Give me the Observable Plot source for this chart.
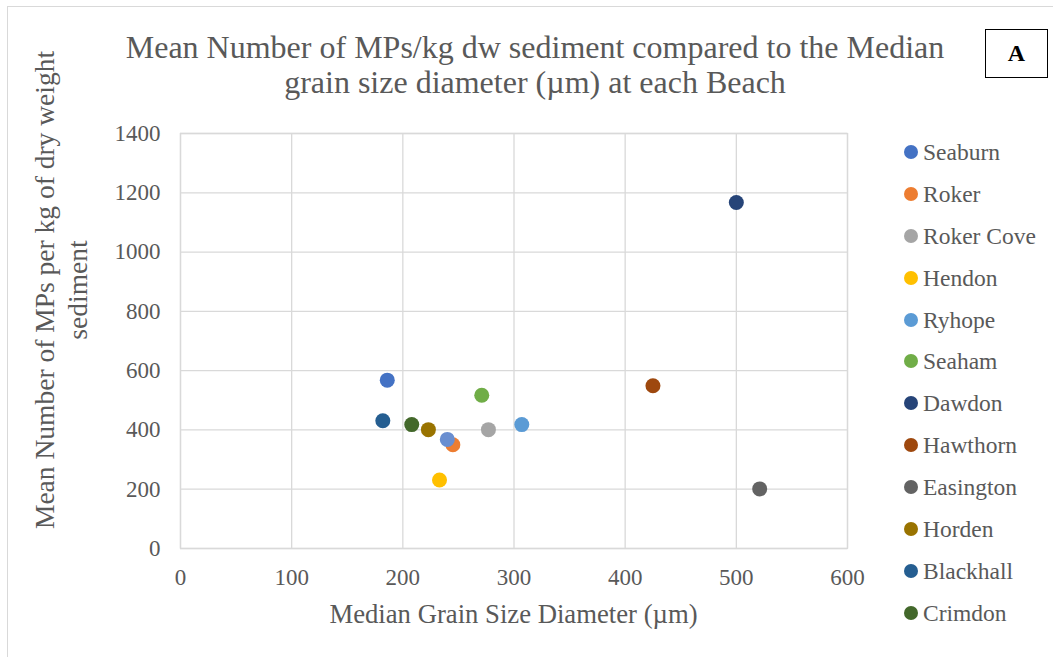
<!DOCTYPE html>
<html>
<head>
<meta charset="utf-8">
<script src="https://cdn.jsdelivr.net/npm/d3@7"></script>
<script src="https://cdn.jsdelivr.net/npm/@observablehq/plot@0.6"></script>
<style>
  html, body { margin: 0; padding: 0; background: #fff; }
  body { width: 1053px; height: 657px; position: relative; overflow: hidden; font-family: "Liberation Serif", "Times New Roman", serif; color: #595959; }
  #frame { position: absolute; left: 7px; top: 6px; width: 1100px; height: 700px; border: 1px solid #d9d9d9; box-sizing: border-box; }
  #chart { position: absolute; left: 0; top: 0; }
  #title { position: absolute; left: 0; width: 1070px; top: 30px; text-align: center; font-size: 32px; line-height: 35px; color: #595959; white-space: nowrap; }
  #ylabel { position: absolute; left: 61px; top: 290px; width: 560px; transform: translate(-50%, -50%) rotate(-90deg); text-align: center; font-size: 27.5px; line-height: 33px; color: #595959; white-space: nowrap; }
  #xlabel { position: absolute; left: 180px; width: 667px; top: 599px; text-align: center; font-size: 26.7px; line-height: 30px; color: #595959; white-space: nowrap; }
  #legend { position: absolute; left: 904px; top: 136px; }
  .li { height: 41.9px; display: flex; align-items: flex-start; font-size: 23.5px; line-height: 32px; white-space: nowrap; }
  .sw { width: 14px; height: 14px; border-radius: 50%; margin-right: 5px; margin-top: 9px; flex: none; }
  #boxA { position: absolute; left: 985px; top: 29px; width: 63px; height: 49px; border: 1.5px solid #000; box-sizing: border-box; text-align: center; font-weight: bold; font-size: 24px; line-height: 46px; color: #000; }
</style>
</head>
<body>
<div id="frame"></div>
<div id="title">Mean Number of MPs/kg dw sediment compared to the Median<br>grain size diameter (µm) at each Beach</div>
<div id="chart"></div>
<div id="ylabel">Mean Number of MPs per kg of dry weight<br>sediment</div>
<div id="xlabel">Median Grain Size Diameter (µm)</div>
<div id="legend"></div>
<div id="boxA">A</div>
<script>
// Data
const beaches = ["Seaburn", "Roker", "Roker Cove", "Hendon", "Ryhope", "Seaham", "Dawdon", "Hawthorn", "Easington", "Horden", "Blackhall", "Crimdon", ""];
const grainSize = [186, 245, 277, 233, 307, 271, 500, 425, 521, 223, 182, 208, 240];
const mpsPerKg = [568, 350, 401, 231, 418, 517, 1167, 549, 201, 401, 431, 418, 368];
const colors = ["#4472C4", "#ED7D31", "#A5A5A5", "#FFC000", "#5B9BD5", "#70AD47", "#264478", "#9E480E", "#636363", "#997300", "#255E91", "#43682B", "#698ED0"];
const xTicks = [0, 100, 200, 300, 400, 500, 600];
const yTicks = [0, 200, 400, 600, 800, 1000, 1200, 1400];
const legendCount = 12;

const data = beaches.map((b, i) => ({beach: b, x: grainSize[i], y: mpsPerKg[i], c: colors[i]}));

const chart = Plot.plot({
  width: 1053,
  height: 657,
  marginLeft: 180,
  marginRight: 206,
  marginTop: 133,
  marginBottom: 109,
  style: {fontFamily: "'Liberation Serif', 'Times New Roman', serif", background: "transparent", color: "#595959"},
  x: {domain: [0, 600]},
  y: {domain: [0, 1400]},
  marks: [
    Plot.gridX(xTicks, {stroke: "#d9d9d9", strokeOpacity: 1, strokeWidth: 1.3}),
    Plot.gridY(yTicks, {stroke: "#d9d9d9", strokeOpacity: 1, strokeWidth: 1.3}),
    Plot.frame({stroke: "#d9d9d9", strokeWidth: 1.3}),
    Plot.axisX(xTicks, {tickSize: 0, tickPadding: 20, fontSize: 23, fill: "#595959", label: null, tickFormat: d => String(d)}),
    Plot.axisY(yTicks, {tickSize: 0, tickPadding: 20, fontSize: 23, fill: "#595959", label: null, tickFormat: d => String(d)}),
    Plot.dot(data, {x: "x", y: "y", r: 7.5, fill: "c", stroke: null})
  ]
});
document.getElementById("chart").appendChild(chart);

const legend = document.getElementById("legend");
beaches.slice(0, legendCount).forEach((b, i) => {
  const row = document.createElement("div");
  row.className = "li";
  row.innerHTML = `<div class="sw" style="background:${colors[i]}"></div><span>${b}</span>`;
  legend.appendChild(row);
});
</script>
</body>
</html>
